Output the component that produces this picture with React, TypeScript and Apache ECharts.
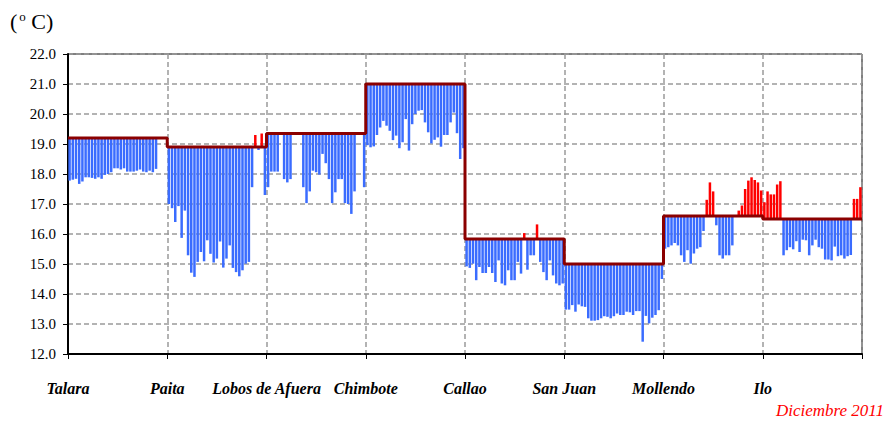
import React, { useEffect, useRef } from 'react';
import * as echarts from 'echarts';

const DAYS = 31;
const stations = ['Talara', 'Paita', 'Lobos de Afuera', 'Chimbote', 'Callao', 'San Juan', 'Mollendo', 'Ilo'];
const normals = [19.2, 18.9, 19.35, 21.0, 15.83, 15.0, 16.6, 16.5];

const talara = [17.78, 17.81, 17.84, 17.67, 17.75, 17.89, 17.89, 17.87, 17.84, 17.89, 17.84, 17.97, 18.0, 18.06, 18.19, 18.19, 18.15, 18.19, 18.08, 18.08, 18.08, 18.11, 18.15, 18.08, 18.06, 18.11, 18.06, 18.17, null, null, null];
const paita = [17.0, 16.86, 16.4, 16.93, 15.87, 16.78, 15.29, 14.71, 14.57, 15.07, 15.4, 15.09, 15.79, 15.34, 15.05, 15.18, 15.75, 14.88, 15.18, 15.62, 14.87, 14.73, 14.59, 14.79, 15.01, 15.07, 17.56, 19.3, 18.8, 19.35, 17.3];
const lobos = [17.56, 18.08, 18.08, 18.08, null, 17.83, 17.72, 17.83, null, null, null, 17.56, 17.03, 17.42, 18.11, 18.06, 17.98, 18.67, 18.36, 17.83, 17.03, 17.39, 17.83, 17.83, 17.03, 17.0, 16.67, 17.42, null, null, 17.56];
const chimbote = [18.96, 18.89, 18.92, 19.3, 19.55, 19.77, 19.61, 19.44, 19.13, 19.28, 18.86, 19.06, 19.83, 18.78, 19.66, 20.0, 20.11, 20.13, 19.72, 19.39, 19.02, 19.14, 19.22, 18.91, 19.3, 19.3, 19.72, 20.05, 19.36, 18.5, 18.86];
const callao = [14.92, 14.87, 15.01, 14.46, 14.9, 14.7, 14.7, 14.9, 14.7, 14.4, 15.12, 14.35, 14.29, 14.79, 14.46, 14.46, 15.07, 14.68, 16.03, 14.81, 15.29, 15.29, 16.32, 15.07, 14.73, 14.46, 15.12, 14.62, 14.35, 14.29, 14.35];
const sanJuan = [13.48, 13.48, 13.63, 13.41, 13.65, 13.59, 13.57, 13.19, 13.11, 13.11, 13.13, 13.19, 13.26, 13.24, 13.19, 13.26, 13.35, 13.3, 13.3, 13.41, 13.39, 13.3, 13.43, 13.43, 12.41, 13.27, 13.02, 13.21, 13.3, 13.46, 14.5];
const mollendo = [15.51, 15.56, 15.62, 15.7, 15.62, 15.29, 15.07, 15.46, 15.01, 15.35, 15.51, 15.56, 16.1, 17.14, 17.72, 17.42, 16.29, 15.29, 15.18, 15.29, 15.29, 15.62, null, 16.78, 16.95, 17.5, 17.78, 17.89, 17.8, 17.72, 17.45];
const ilo = [17.06, 17.42, 17.32, 17.32, 17.65, 17.76, 15.29, 15.46, 15.56, 15.49, 15.76, 15.4, 15.81, 15.79, 15.29, 15.62, 15.81, 15.56, 15.51, 15.15, 15.15, 15.12, 15.58, 15.26, 15.29, 15.18, 15.26, 15.3, 17.17, 17.17, 17.56];

const dailyValues = [talara, paita, lobos, chimbote, callao, sanJuan, mollendo, ilo];
const yTicks = [12, 13, 14, 15, 16, 17, 18, 19, 20, 21, 22];

const BLUE = '#3a6cff';
const RED = '#ff0000';
const LINE = '#8b0000';
const GRID = '#9a9a9a';
const SERIF = '"Liberation Serif", "Times New Roman", serif';

export default function App() {
  const ref = useRef<HTMLDivElement>(null);
  useEffect(() => {
    document.body.style.margin = '0';
    const chart = echarts.init(ref.current as HTMLDivElement, null, { renderer: 'svg' });

    const barData: any[] = [];
    const lineData: any[] = [];
    dailyValues.forEach((arr, s) => {
      const n = normals[s];
      lineData.push([s * DAYS, n]);
      lineData.push([(s + 1) * DAYS, n]);
      arr.forEach((v, d) => {
        if (v === null || v === undefined) return;
        barData.push([s * DAYS + d + 0.5, v, n]);
      });
    });

    const option: any = {
      animation: false,
      textStyle: { fontFamily: SERIF },
      grid: {
        left: 68,
        right: 25,
        top: 54,
        bottom: 72,
        show: true,
        borderColor: '#000',
        borderWidth: 1,
        backgroundColor: 'transparent',
      },
      xAxis: {
        type: 'value',
        min: 0,
        max: DAYS * stations.length,
        interval: DAYS,
        axisLine: { show: true, onZero: false, lineStyle: { color: '#000', width: 2 } },
        axisTick: { show: true, length: 5, lineStyle: { color: '#000', width: 1 } },
        splitLine: { show: true, lineStyle: { color: GRID, type: [5, 3], width: 1.5 } },
        axisLabel: {
          show: true,
          showMinLabel: true,
          showMaxLabel: true,
          hideOverlap: false,
          margin: 26,
          formatter: (v: number) => stations[Math.round(v / DAYS)] ?? '',
          fontFamily: SERIF,
          fontStyle: 'italic',
          fontWeight: 'bold',
          fontSize: 16,
          color: '#000',
        },
      },
      yAxis: {
        type: 'value',
        min: yTicks[0],
        max: yTicks[yTicks.length - 1],
        interval: 1,
        axisLine: { show: true, onZero: false, lineStyle: { color: '#000', width: 2 } },
        axisTick: { show: true, length: 5, lineStyle: { color: '#000', width: 1 } },
        splitLine: { show: true, lineStyle: { color: GRID, type: [5, 3], width: 1.5 } },
        axisLabel: {
          margin: 12,
          formatter: (v: number) => v.toFixed(1),
          fontFamily: SERIF,
          fontSize: 15,
          color: '#000',
        },
      },
      series: [
        {
          type: 'custom',
          data: barData,
          encode: { x: 0, y: 1 },
          clip: true,
          z: 2,
          renderItem: (params: any, api: any) => {
            const x = api.value(0);
            const v = api.value(1);
            const n = api.value(2);
            const p1 = api.coord([x, n]);
            const p2 = api.coord([x, v]);
            const w = api.size([1, 0])[0] * 0.78;
            return {
              type: 'rect',
              shape: {
                x: p1[0] - w / 2,
                y: Math.min(p1[1], p2[1]),
                width: w,
                height: Math.abs(p2[1] - p1[1]),
              },
              style: { fill: v < n ? BLUE : RED },
            };
          },
        },
        {
          type: 'line',
          data: lineData,
          symbol: 'none',
          z: 5,
          lineStyle: { color: LINE, width: 3 },
        },
      ],
      graphic: [
        {
          type: 'text',
          left: 10,
          top: 10,
          style: {
            text: '{a|(}{b|o}{a| C)}',
            rich: {
              a: { fontSize: 22, fontFamily: SERIF, fill: '#000' },
              b: { fontSize: 13, fontFamily: SERIF, fill: '#000', verticalAlign: 'top', padding: [0, 0, 8, 2] },
            },
          },
        },
        {
          type: 'text',
          right: 3,
          top: 402,
          style: {
            text: 'Diciembre 2011',
            fontSize: 17,
            fontStyle: 'italic',
            fontFamily: SERIF,
            fill: RED,
          },
        },
      ],
    };
    chart.setOption(option);
    return () => chart.dispose();
  }, []);
  return <div ref={ref} style={{ width: 887, height: 426 }} />;
}
